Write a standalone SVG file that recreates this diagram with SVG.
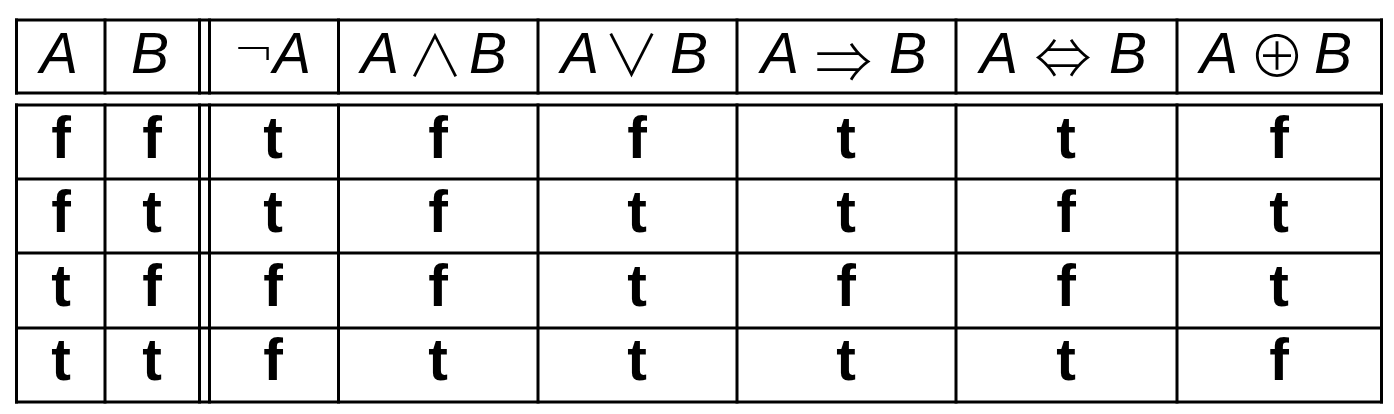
<svg xmlns="http://www.w3.org/2000/svg" width="1394" height="414" viewBox="0 0 1394 414">
<style>
.ln{stroke:#000;stroke-width:3;fill:none;stroke-linecap:square}
.hd{font-family:"Liberation Sans","DejaVu Sans",sans-serif;font-size:57px;text-anchor:middle;fill:#000}
.it{font-style:italic}
.ng{font-family:"DejaVu Sans",sans-serif;font-style:normal;font-weight:200;font-size:50px}
.op{font-family:"Noto Sans CJK JP","DejaVu Sans",sans-serif;font-style:normal;font-weight:300;font-size:57px}
.bd{font-family:"Liberation Sans","DejaVu Sans",sans-serif;font-size:59px;font-weight:bold;text-anchor:middle;fill:#000}
</style>
<rect width="1394" height="414" fill="#fff"/>
<g id="grid">
<path class="ln" d="M16.5,20H1381.5M16.5,93H1381.5M16.5,105H1381.5M16.5,179H1381.5M16.5,253H1381.5M16.5,328H1381.5M16.5,402H1381.5"/>
<path class="ln" d="M16.5,20V93M105,20V93M199.5,20V93M209.5,20V93M338.5,20V93M538,20V93M737,20V93M956,20V93M1177,20V93M1381.5,20V93"/>
<path class="ln" d="M16.5,105V402M105,105V402M199.5,105V402M209.5,105V402M338.5,105V402M538,105V402M737,105V402M956,105V402M1177,105V402M1381.5,105V402"/>
</g>
<g id="header">
<text class="hd it" x="59" y="73">A</text>
<text class="hd it" x="150" y="73">B</text>
<text class="hd"><tspan class="ng" x="254" y="67">¬</tspan><tspan class="it" x="292" y="73">A</tspan></text>
<text class="hd"><tspan class="it" x="380" y="73">A</tspan><tspan class="op" x="435" y="76">∧</tspan><tspan class="it" x="488" y="73">B</tspan></text>
<text class="hd"><tspan class="it" x="580" y="73">A</tspan><tspan class="op" x="631.5" y="76">∨</tspan><tspan class="it" x="689" y="73">B</tspan></text>
<text class="hd"><tspan class="it" x="780" y="73">A</tspan><tspan class="op" x="843.5" y="83">⇒</tspan><tspan class="it" x="908" y="73">B</tspan></text>
<text class="hd"><tspan class="it" x="999" y="73">A</tspan><tspan class="op" x="1063" y="79" font-size="66">⇔</tspan><tspan class="it" x="1128" y="73">B</tspan></text>
<text class="hd"><tspan class="it" x="1219" y="73">A</tspan><tspan class="op" x="1277" y="77" font-size="70">⊕</tspan><tspan class="it" x="1333" y="73">B</tspan></text>
</g>
<g id="row1">
<text class="bd" x="61" y="158">f</text><text class="bd" x="152" y="158">f</text><text class="bd" x="273" y="158">t</text><text class="bd" x="438" y="158">f</text><text class="bd" x="637" y="158">f</text><text class="bd" x="846" y="158">t</text><text class="bd" x="1066" y="158">t</text><text class="bd" x="1279" y="158">f</text>
</g>
<g id="row2">
<text class="bd" x="61" y="232">f</text><text class="bd" x="152" y="232">t</text><text class="bd" x="273" y="232">t</text><text class="bd" x="438" y="232">f</text><text class="bd" x="637" y="232">t</text><text class="bd" x="846" y="232">t</text><text class="bd" x="1066" y="232">f</text><text class="bd" x="1279" y="232">t</text>
</g>
<g id="row3">
<text class="bd" x="61" y="306">t</text><text class="bd" x="152" y="306">f</text><text class="bd" x="273" y="306">f</text><text class="bd" x="438" y="306">f</text><text class="bd" x="637" y="306">t</text><text class="bd" x="846" y="306">f</text><text class="bd" x="1066" y="306">f</text><text class="bd" x="1279" y="306">t</text>
</g>
<g id="row4">
<text class="bd" x="61" y="380">t</text><text class="bd" x="152" y="380">t</text><text class="bd" x="273" y="380">f</text><text class="bd" x="438" y="380">t</text><text class="bd" x="637" y="380">t</text><text class="bd" x="846" y="380">t</text><text class="bd" x="1066" y="380">t</text><text class="bd" x="1279" y="380">f</text>
</g>
</svg>
